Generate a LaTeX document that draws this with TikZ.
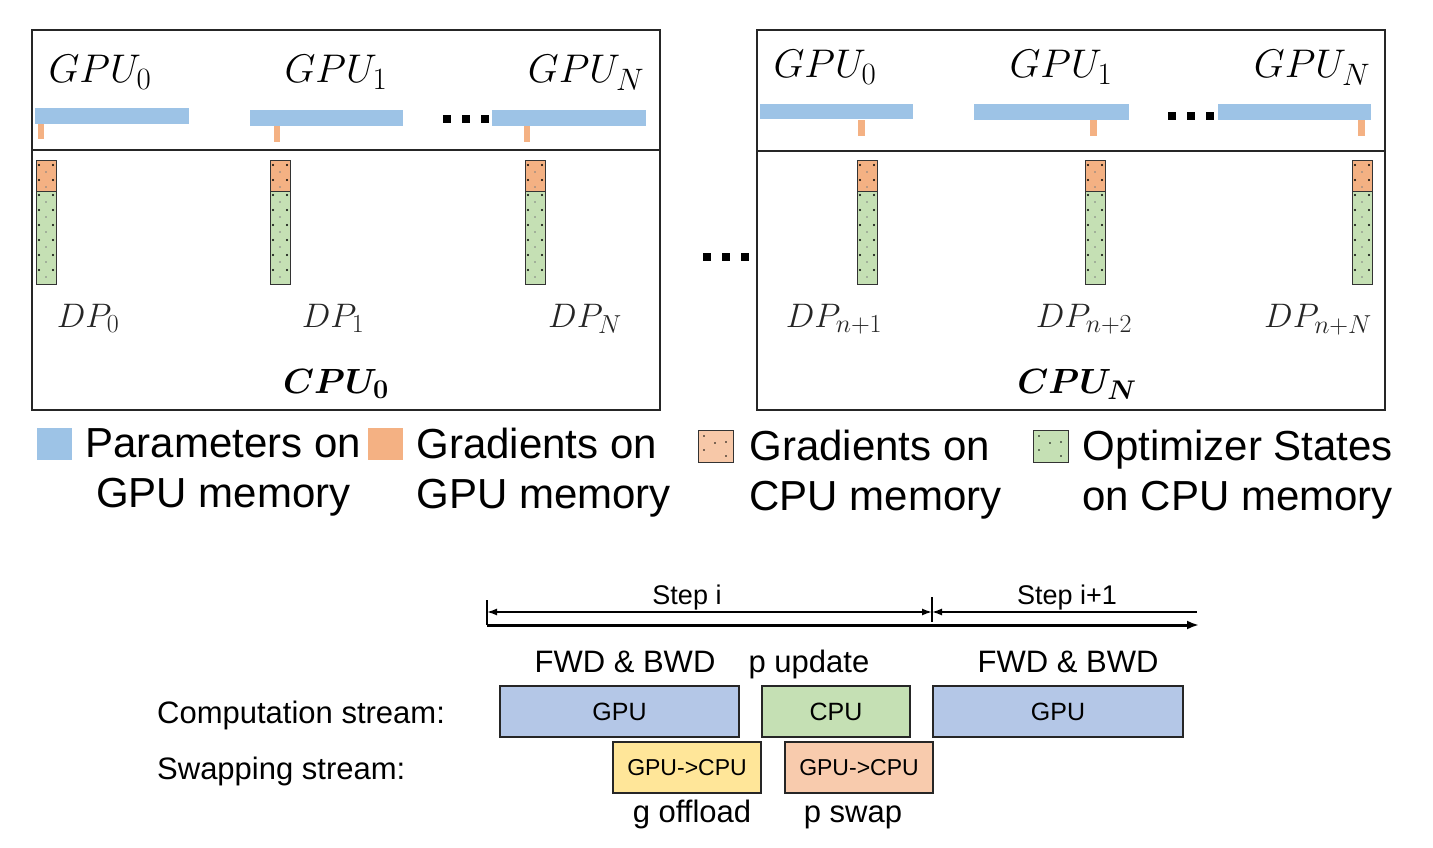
\RequirePackage{fix-cm}
\documentclass[tikz,border=0pt]{standalone}
\usepackage{fontspec}
\newfontfamily\arialfont{Liberation Sans}
\usepackage{tikz}
\usetikzlibrary{shapes,arrows,arrows.meta,positioning,calc}

\DeclareMathSizes{40}{40}{31}{25}
\DeclareMathSizes{35}{35}{27}{22}
\DeclareMathSizes{34}{34}{26}{21}

\definecolor{parblue}{HTML}{9DC3E6}
\definecolor{gradorg}{HTML}{F4B183}
\definecolor{optgrn}{HTML}{C5E0B4}
\definecolor{gpubox}{HTML}{B4C7E7}
\definecolor{cpubox}{HTML}{C5E0B4}
\definecolor{offyel}{HTML}{FFE699}
\definecolor{swporg}{HTML}{F8CBAD}

\newcommand{\memcol}[2]{%
  \node[mcell, fill=gradorg, minimum height=31pt] (#2g) at (#1,160) {};
  \node[mcell, fill=optgrn, minimum height=93pt] (#2o) at (#1,191) {};
  \foreach \k in {0,...,7}
    \fill ($(#2g.north west)+(3,5+15*\k)$) circle (1.1pt)
          ($(#2g.north west)+(17,5+15*\k)$) circle (1.1pt);
  \foreach \k in {0,...,7}
    \fill[black!50] ($(#2g.north west)+(10,12+15*\k)$) circle (0.8pt);
}
\newcommand{\blackdots}[2]{%
  \foreach \i in {0,1,2}
    \fill ($(#1,#2)+(19*\i,0)$) rectangle +(8,8);
}

\begin{document}
\begin{tikzpicture}[x=1pt, y=-1pt,
        panel/.style={draw=black!85, line width=2pt},
        pbar/.style={fill=parblue},
        gtick/.style={fill=gradorg},
        mcell/.style={draw=black!80, line width=1.2pt, inner sep=0pt, minimum width=20pt, anchor=north west},
        gpulbl/.style={font=\fontsize{40}{48}\selectfont, anchor=base, inner sep=0pt},
        dplbl/.style={font=\fontsize{34}{40}\selectfont, text=black!85, anchor=base, inner sep=0pt},
        cpulbl/.style={font=\fontsize{35}{42}\selectfont\boldmath, anchor=base, inner sep=0pt},
        swatch/.style={inner sep=0pt, minimum width=35pt, minimum height=32pt, anchor=north west},
        lgdtext/.style={font=\arialfont\fontsize{42}{50}\selectfont, inner sep=0pt},
        txt/.style={font=\arialfont\fontsize{31}{36}\selectfont, inner sep=0pt, anchor=base},
        stepbox/.style={draw=black!85, line width=2pt, minimum height=51pt, inner sep=0pt, font=\arialfont\fontsize{25}{30}\selectfont}]

    \useasboundingbox (0,0) rectangle (1433,848);

    % left node
    \draw[panel] (32,30) rectangle (660,410);
    \draw[panel] (32,150) -- (660,150);
    \node[gpulbl] (lg0) at (100,83) {$GPU_0$};
    \node[gpulbl] (lg1) at (336,83) {$GPU_1$};
    \node[gpulbl] (lgn) at (586,83) {$GPU_N$};
    \fill[pbar] (35,108) rectangle (189,124);
    \fill[pbar] (250,110) rectangle (403,126);
    \fill[pbar] (492,110) rectangle (646,126);
    \fill[gtick] (38,124) rectangle (44,139);
    \fill[gtick] (274,126) rectangle (280,142);
    \fill[gtick] (524,126) rectangle (530,142);
    \blackdots{443}{115}
    \memcol{36}{lc0}
    \memcol{270}{lc1}
    \memcol{525}{lcn}
    \node[dplbl] (ldp0) at (88,327) {$DP_0$};
    \node[dplbl] (ldp1) at (333,327) {$DP_1$};
    \node[dplbl] (ldpn) at (585,327) {$DP_N$};
    \node[cpulbl] (cpu0) at (336,393) {$CPU_0$};

    \blackdots{703}{253}

    % right node
    \draw[panel] (757,30) rectangle (1385,410);
    \draw[panel] (757,151) -- (1385,151);
    \node[gpulbl] (rg0) at (825,78) {$GPU_0$};
    \node[gpulbl] (rg1) at (1061,78) {$GPU_1$};
    \node[gpulbl] (rgn) at (1312,78) {$GPU_N$};
    \fill[pbar] (760,104) rectangle (913,119);
    \fill[pbar] (974,104) rectangle (1129,120);
    \fill[pbar] (1218,104) rectangle (1371,120);
    \fill[gtick] (858,120) rectangle (865,136);
    \fill[gtick] (1090,120) rectangle (1097,136);
    \fill[gtick] (1358,120) rectangle (1365,136);
    \blackdots{1168}{112}
    \memcol{857}{rc0}
    \memcol{1085}{rc1}
    \memcol{1352}{rcn}
    \node[dplbl] (rdp0) at (834,327) {$DP_{n+1}$};
    \node[dplbl] (rdp1) at (1084,327) {$DP_{n+2}$};
    \node[dplbl] (rdpn) at (1318,327) {$DP_{n+N}$};
    \node[cpulbl] (cpun) at (1077,393) {$CPU_N$};

    % legend
    \node[swatch, fill=parblue] (sw1) at (37,428) {};
    \node[swatch, fill=gradorg] (sw2) at (368,428) {};
    \node[swatch, fill=gradorg!70, draw=black!80, line width=1.2pt] (sw3) at (698,430) {};
    \node[swatch, fill=optgrn, draw=black!80, line width=1.2pt] (sw4) at (1033,430) {};
    \foreach \s in {sw3,sw4}
      \foreach \dx/\dy in {6/6,6/20,28/12,28/26,17/13}
        \fill ($(\s.north west)+(\dx,\dy)$) circle (0.9pt);
    \node[lgdtext, align=center, right=13pt of sw1.north east, anchor=north west] (lt1) {Parameters on\\GPU memory};
    \node[lgdtext, align=left, right=13pt of sw2.north east, anchor=north west] (lt2) {Gradients on\\GPU memory};
    \node[lgdtext, align=left, right=15pt of sw3.north east, anchor=north west] (lt3) {Gradients on\\CPU memory};
    \node[lgdtext, align=center, right=13pt of sw4.north east, anchor=north west] (lt4) {Optimizer States\\on CPU memory};

    % timeline
    \coordinate (s0) at (487,612);
    \coordinate (s1) at (932,612);
    \coordinate (s2) at (1197,612);
    \coordinate (b0) at (487,625);
    \coordinate (b1) at (1199,625);
    \draw[{Latex[length=10pt,width=7pt]}-{Latex[length=10pt,width=7pt]}, line width=1.5pt] (s0) -- (s1);
    \draw[{Latex[length=10pt,width=7pt]}-, line width=1.5pt] (s1) -- (s2);
    \draw[-{Latex[length=12pt,width=9pt]}, line width=3pt] (b0) -- (b1);
    \draw[line width=1.5pt] (487,600) -- (b0);
    \draw[line width=1.5pt] (932,597) -- (932,622);
    \node[txt, font=\arialfont\fontsize{27}{32}\selectfont] (st1) at (687,604) {Step i};
    \node[txt, font=\arialfont\fontsize{27}{32}\selectfont] (st2) at (1067,604) {Step i+1};

    \node[stepbox, fill=gpubox, minimum width=239pt] (gpua) at (619.5,711.5) {GPU};
    \node[stepbox, fill=cpubox, minimum width=148pt] (cpua) at (836,711.5) {CPU};
    \node[stepbox, fill=gpubox, minimum width=250pt] (gpub) at (1058,711.5) {GPU};
    \node[stepbox, fill=offyel, minimum width=148pt, font=\arialfont\fontsize{23}{28}\selectfont] (offa) at (687,767.5) {GPU->CPU};
    \node[stepbox, fill=swporg, minimum width=148pt, font=\arialfont\fontsize{23}{28}\selectfont] (swpa) at (859,767.5) {GPU->CPU};

    \node[txt] (fb1) at (625,672) {FWD \& BWD};
    \node[txt] (pup) at (809,672) {p update};
    \node[txt] (fb2) at (1068,672) {FWD \& BWD};
    \node[txt, anchor=base west] (cstr) at (157,723) {Computation stream:};
    \node[txt, anchor=base west] (sstr) at (157,779) {Swapping stream:};
    \node[txt] (goff) at (692,822) {g offload};
    \node[txt] (pswp) at (853,822) {p swap};
\end{tikzpicture}
\end{document}
